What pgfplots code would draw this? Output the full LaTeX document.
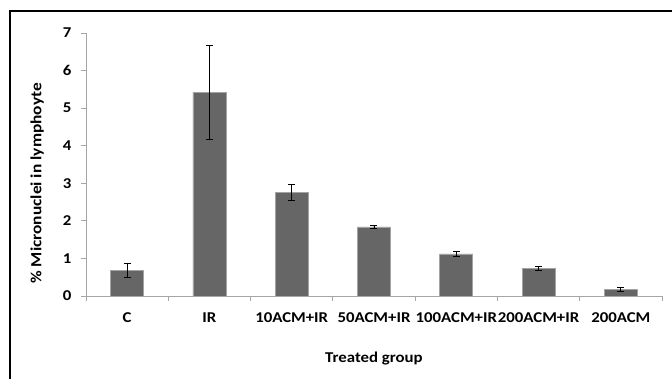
\documentclass[border=0pt]{standalone}
\usepackage{fontspec}
\setmainfont{Carlito}[FakeStretch=1.12]
\usepackage{pgfplots}
\pgfplotsset{compat=1.18}
\definecolor{barfill}{HTML}{666666}
\definecolor{axgray}{HTML}{A6A6A6}
\begin{document}
\begin{tikzpicture}[x=1pt,y=1pt]
\useasboundingbox (0,0) rectangle (672,379);
\draw[line width=2pt] (10,0) -- (10,368) -- (672,368);
\begin{axis}[
  at={(86pt,83pt)}, anchor=south west,
  scale only axis, width=576pt, height=263pt,
  xmin=0, xmax=7, ymin=0, ymax=7,
  axis x line*=bottom, axis y line*=left,
  axis line style={axgray, line width=0.8pt},
  xtick={0,...,7}, x tick label as interval,
  xticklabels={C,IR,10ACM+IR,50ACM+IR,100ACM+IR,200ACM+IR,200ACM},
  ytick={0,...,7},
  tick align=outside, major tick length=5pt,
  tick style={axgray, line width=0.8pt},
  ticklabel style={font=\fontsize{15}{17}\selectfont\bfseries},
  /pgf/number format/assume math mode=true,
  xticklabel style={yshift=-8pt},
  yticklabel style={xshift=-6pt},
  xlabel={Treated group},
  ylabel={\% Micronuclei in lymphoyte},
  every axis x label/.style={at={(axis description cs:0.5,-0.236)}, anchor=center, font=\fontsize{15}{17}\selectfont\bfseries},
  every axis y label/.style={at={(axis description cs:-0.085,0.428)}, rotate=90, anchor=center, font=\fontsize{15.5}{17}\selectfont\bfseries},
  ybar, bar width=33pt,
  error bars/y dir=both, error bars/y explicit,
  error bars/error bar style={black, line width=0.9pt},
  error bars/error mark options={rotate=90, black, mark size=3.5pt, line width=0.9pt},
]
\addplot[fill=barfill, draw=barfill!60!white, line width=0.6pt]
  coordinates {
    (0.5,0.68) +- (0,0.19)
    (1.5,5.42) +- (0,1.25)
    (2.5,2.76) +- (0,0.22)
    (3.5,1.84) +- (0,0.05)
    (4.5,1.12) +- (0,0.06)
    (5.5,0.73) +- (0,0.06)
    (6.5,0.18) +- (0,0.05)
  };
\end{axis}
\end{tikzpicture}
\end{document}
